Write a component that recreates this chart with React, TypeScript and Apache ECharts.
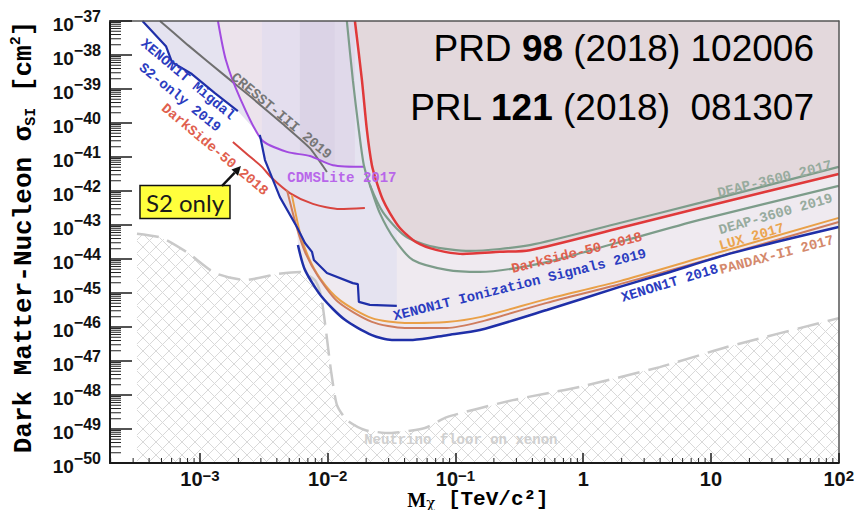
import { useEffect, useRef } from 'react';
import * as echarts from 'echarts';

type Pt = [number, number];

// Every curve is stored as [log10(M / TeV), log10(sigma_SI / cm^2)].
const xenon1tMigdal2019: Pt[] = [[-3.45, -37.0], [-3.266, -37.74], [-3.219, -38.21], [-3.063, -38.56], [-2.883, -39.12], [-2.703, -39.65]];
const cresst3_2019: Pt[] = [[-3.313, -37.0], [-3.094, -37.71], [-2.781, -38.68], [-2.593, -39.26], [-2.351, -40.03], [-2.139, -40.74], [-2.006, -41.44]];
const cdmsLite2017: Pt[] = [[-2.859, -37.0], [-2.797, -38.15], [-2.687, -39.26], [-2.515, -40.5], [-2.319, -40.85], [-2.139, -40.97], [-1.959, -41.24], [-1.709, -41.29]];
const darkSide50S2_2018: Pt[] = [[-2.742, -40.56], [-2.624, -40.94], [-2.515, -41.29], [-2.437, -41.62], [-2.296, -42.06], [-2.116, -42.38], [-1.905, -42.53], [-1.709, -42.5]];
const xenon1tIonization2019: Pt[] = [[-2.531, -40.35], [-2.491, -41.09], [-2.374, -42.18], [-2.241, -43.06], [-2.178, -43.53], [-2.123, -43.79], [-2.108, -44.03], [-2.006, -44.41], [-1.803, -44.71], [-1.764, -44.74], [-1.756, -45.26], [-1.67, -45.35], [-1.459, -45.38]];
const xenon1t2018: Pt[] = [[-2.233, -43.59], [-2.178, -44.32], [-2.045, -45.12], [-1.865, -45.79], [-1.654, -46.24], [-1.498, -46.38], [-1.333, -46.38], [-1.067, -46.24], [-0.809, -46.09], [-0.285, -45.5], [0.286, -44.82], [0.654, -44.41], [1.171, -43.82], [2.0, -43.06]];
const lux2017: Pt[] = [[-2.28, -42.12], [-2.218, -43.21], [-2.155, -43.91], [-2.061, -44.56], [-1.905, -45.21], [-1.654, -45.74], [-1.396, -45.88], [-1.067, -45.85], [-0.809, -45.71], [-0.285, -45.18], [0.286, -44.65], [0.912, -43.97], [2.0, -42.79]];
const pandax2_2017: Pt[] = [[-2.319, -41.97], [-2.241, -43.09], [-2.178, -43.79], [-2.077, -44.5], [-1.92, -45.26], [-1.654, -45.85], [-1.396, -46.03], [-1.067, -46.03], [-0.809, -45.85], [-0.285, -45.29], [0.286, -44.74], [0.912, -44.09], [2.0, -42.91]];
const darkSide50_2018: Pt[] = [[-1.787, -37.0], [-1.732, -38.74], [-1.693, -40.21], [-1.654, -41.24], [-1.615, -41.76], [-1.568, -42.26], [-1.513, -42.65], [-1.435, -43.09], [-1.333, -43.44], [-1.279, -43.56], [-1.2, -43.68], [-1.083, -43.79], [-0.942, -43.85], [-0.653, -43.79], [-0.418, -43.74], [0.286, -43.09], [0.912, -42.5], [2.0, -41.5]];
const deap3600_2017: Pt[] = [[-1.85, -37.0], [-1.803, -38.74], [-1.756, -40.21], [-1.717, -41.24], [-1.67, -41.82], [-1.568, -42.62], [-1.396, -43.32], [-1.2, -43.62], [-0.887, -43.76], [-0.418, -43.59], [0.286, -42.94], [0.912, -42.35], [2.0, -41.29]];
const deap3600_2019: Pt[] = [[-1.67, -41.82], [-1.592, -42.65], [-1.474, -43.44], [-1.333, -44.03], [-1.067, -44.32], [-0.809, -44.38], [-0.285, -44.09], [0.286, -43.5], [0.912, -42.85], [2.0, -41.85]];
const neutrinoFloorXe: Pt[] = [[-3.493, -43.26], [-3.297, -43.38], [-3.094, -43.82], [-2.883, -44.41], [-2.648, -44.62], [-2.39, -44.44], [-2.218, -44.38], [-2.1, -44.62], [-2.053, -45.06], [-2.014, -46.09], [-1.975, -47.26], [-1.928, -48.29], [-1.85, -48.74], [-1.709, -49.03], [-1.513, -49.12], [-1.239, -48.97], [-1.067, -48.65], [-0.551, -48.15], [-0.027, -47.76], [0.599, -47.18], [1.124, -46.59], [2.0, -45.74]];

// Extra shading strips inside the low-mass excluded region
const stripA: Pt[] = [[-2.859, -37.0], [-2.515, -37.0], [-2.515, -40.5], [-2.687, -39.26], [-2.797, -38.15]];
const stripB: Pt[] = [[-2.515, -37.0], [-2.218, -37.0], [-2.218, -40.93], [-2.319, -40.85], [-2.515, -40.5]];
const stripC: Pt[] = [[-2.218, -37.0], [-1.944, -37.0], [-1.944, -41.25], [-2.139, -40.97], [-2.218, -40.93]];
const stripD: Pt[] = [[-1.944, -37.0], [-1.787, -37.0], [-1.787, -41.28], [-1.944, -41.25]];

// Axis ranges (decimal exponents) and labelled decades
const X_MIN = -3.704;
const X_MAX = 2;
const Y_MIN = -50;
const Y_MAX = -37;
const xDecades = [-3, -2, -1, 0, 1, 2];

// "S2 only" call-out
const s2OnlyBoxAt: Pt = [-3.117, -42.324];
const s2ArrowFrom: Pt = [-2.828, -41.853];
const s2ArrowTo: Pt = [-2.679, -41.265];

const BLUE_TXT = '#2b3cc0';
const curveLabels = [
  { text: 'XENON1T Migdal', at: [-3.094, -38.72], angle: -40, color: BLUE_TXT },
  { text: 'S2-only 2019', at: [-3.156, -39.25], angle: -39, color: BLUE_TXT },
  { text: 'DarkSide-50 2018', at: [-2.883, -40.78], angle: -40, color: '#e0604e' },
  { text: 'CRESST-III 2019', at: [-2.362, -39.79], angle: -40, color: '#767676' },
  { text: 'CDMSLite 2017', at: [-1.889, -41.62], angle: 0, color: '#b866ea' },
  { text: 'DEAP-3600 2017', at: [1.499, -41.65], angle: 14, color: '#97ab9e' },
  { text: 'DEAP-3600 2019', at: [1.507, -42.68], angle: 16, color: '#97ab9e' },
  { text: 'LUX 2017', at: [1.319, -43.35], angle: 16, color: '#eba54f' },
  { text: 'PANDAX-II 2017', at: [1.515, -43.88], angle: 15, color: '#d4896c' },
  { text: 'XENON1T 2018', at: [0.678, -44.71], angle: 17, color: BLUE_TXT },
  { text: 'DarkSide-50 2018', at: [-0.05, -43.82], angle: 14, color: '#e0604e' },
  { text: 'XENON1T Ionization Signals 2019', at: [-0.496, -44.76], angle: 14, color: BLUE_TXT },
  { text: 'Neutrino floor on xenon', at: [-0.958, -49.32], angle: 0, color: '#d0d0d0' },
];

const minus = (n: number) => (n < 0 ? '\u2212' + Math.abs(n) : String(n));

const yLabel = (v: number) => `{b|10}{s|${minus(Math.round(v))}}`;
const xLabel = (v: number) => {
  const n = Math.round(v);
  if (Math.abs(v - n) > 1e-6 || xDecades.indexOf(n) < 0) return '';
  if (n === 0) return '{b|1}';
  if (n === 1) return '{b|10}';
  return `{b|10}{s|${minus(n)}}`;
};

const LABEL_FONT = 'Liberation Sans';
const MONO = 'Liberation Mono';

const polygonSeries = (pts: Pt[], color: string, z: number) => ({
  type: 'custom',
  z,
  silent: true,
  coordinateSystem: 'cartesian2d',
  data: [[pts[0][0], pts[0][1]]],
  renderItem: (_p: any, api: any) => ({
    type: 'polygon',
    shape: { points: pts.map((p) => api.coord(p)) },
    style: { fill: color, stroke: null },
  }),
});

const curve = (data: Pt[], color: string, width: number, smooth = 0.2) => ({
  type: 'line',
  z: 6,
  silent: true,
  data,
  symbol: 'none',
  showSymbol: false,
  smooth,
  lineStyle: { color, width },
});

// Cross-hatching below the neutrino floor: diagonal lines clipped to the region
const hatchSeries = {
  type: 'custom',
  z: 5,
  silent: true,
  coordinateSystem: 'cartesian2d',
  data: [neutrinoFloorXe[0]],
  renderItem: (_p: any, api: any) => {
    const pts = neutrinoFloorXe.map((p) => api.coord(p));
    const bottom = api.coord([X_MIN, Y_MIN])[1];
    const poly = [...pts, [pts[pts.length - 1][0], bottom], [pts[0][0], bottom]];
    const step = 13;
    const children: any[] = [];
    for (const dir of [1, -1]) {
      const vals = poly.map((p) => p[1] - dir * p[0]);
      const cMin = Math.min(...vals);
      const cMax = Math.max(...vals);
      for (let c = Math.ceil(cMin / step) * step; c <= cMax; c += step) {
        const xs: number[] = [];
        for (let i = 0; i < poly.length; i++) {
          const a = poly[i];
          const b = poly[(i + 1) % poly.length];
          const fa = a[1] - dir * a[0] - c;
          const fb = b[1] - dir * b[0] - c;
          if (fa < 0 !== fb < 0) {
            const t = fa / (fa - fb);
            xs.push(a[0] + t * (b[0] - a[0]));
          }
        }
        xs.sort((m, n) => m - n);
        for (let j = 0; j + 1 < xs.length; j += 2) {
          children.push({
            type: 'line',
            shape: { x1: xs[j], y1: c + dir * xs[j], x2: xs[j + 1], y2: c + dir * xs[j + 1] },
            style: { stroke: '#d9d9d9', lineWidth: 1 },
          });
        }
      }
    }
    return { type: 'group', children };
  },
};

function buildOption() {
  const upperLight: Pt[] = [
    ...xenon1tMigdal2019,
    ...xenon1tIonization2019.slice(0, 4),
    ...xenon1t2018,
    [X_MAX, Y_MAX],
  ];
  const upperLavender: Pt[] = [
    ...xenon1tMigdal2019,
    ...xenon1tIonization2019,
    [xenon1tIonization2019[xenon1tIonization2019.length - 1][0], Y_MAX],
  ];
  const heavyRegion: Pt[] = [...darkSide50_2018, [X_MAX, Y_MAX]];

  const axisLineDark = { show: true, onZero: false, lineStyle: { color: '#1a1a1a', width: 2 } };
  const axisLineFrame = { show: true, onZero: false, lineStyle: { color: '#555555', width: 1.5 } };

  return {
    animation: false,
    backgroundColor: '#ffffff',
    grid: { left: 110, right: 18, top: 21, bottom: 47, show: true, backgroundColor: '#ffffff', borderWidth: 0 },
    xAxis: [
      {
        type: 'value',
        min: X_MIN,
        max: X_MAX,
        splitNumber: 6,
        z: 10,
        axisLine: axisLineDark,
        axisTick: { show: true, inside: true, length: 10, lineStyle: { color: '#1a1a1a', width: 1.5 } },
        axisLabel: {
          show: true,
          interval: 0,
          margin: 5,
          showMinLabel: false,
          formatter: xLabel,
          rich: {
            b: { fontFamily: LABEL_FONT, fontWeight: 'bold', fontSize: 20, color: '#111', lineHeight: 21, verticalAlign: 'bottom' },
            s: { fontFamily: LABEL_FONT, fontWeight: 'bold', fontSize: 15, color: '#111', lineHeight: 15, verticalAlign: 'top' },
          },
        },
        splitLine: { show: false },
      },
      {
        type: 'value',
        position: 'top',
        min: X_MIN,
        max: X_MAX,
        z: 10,
        axisLine: axisLineFrame,
        axisTick: { show: false },
        axisLabel: { show: false },
        splitLine: { show: false },
      },
    ],
    yAxis: [
      {
        type: 'value',
        min: Y_MIN,
        max: Y_MAX,
        interval: 1,
        z: 10,
        axisLine: axisLineDark,
        axisTick: { show: true, inside: true, length: 22, lineStyle: { color: '#1a1a1a', width: 1.5 } },
        axisLabel: {
          show: true,
          interval: 0,
          margin: 9,
          formatter: yLabel,
          rich: {
            b: { fontFamily: LABEL_FONT, fontWeight: 'bold', fontSize: 19, color: '#111', lineHeight: 25, verticalAlign: 'bottom' },
            s: { fontFamily: LABEL_FONT, fontWeight: 'bold', fontSize: 16, color: '#111', lineHeight: 16, verticalAlign: 'top' },
          },
        },
        splitLine: { show: false },
      },
      {
        type: 'value',
        position: 'right',
        min: Y_MIN,
        max: Y_MAX,
        interval: 1,
        z: 10,
        axisLine: axisLineFrame,
        axisTick: { show: false },
        axisLabel: { show: false },
        splitLine: { show: false },
      },
    ],
    graphic: [
      {
        type: 'text',
        x: 24,
        y: 237,
        rotation: Math.PI / 2,
        z: 100,
        style: {
          text: '{t|Dark Matter-Nucleon \u03c3}{sub|SI}{t| [cm}{sup|2}{t|]}',
          align: 'center',
          verticalAlign: 'middle',
          textAlign: 'center',
          textVerticalAlign: 'middle',
          rich: {
            t: { fontFamily: MONO, fontWeight: 'bold', fontSize: 26, color: '#1a1a1a', lineHeight: 30, verticalAlign: 'middle' },
            sub: { fontFamily: MONO, fontWeight: 'bold', fontSize: 15, color: '#1a1a1a', lineHeight: 15, verticalAlign: 'bottom' },
            sup: { fontFamily: MONO, fontWeight: 'bold', fontSize: 15, color: '#1a1a1a', lineHeight: 15, verticalAlign: 'top' },
          },
        },
      },
      {
        type: 'text',
        x: 478,
        y: 499.5,
        z: 100,
        style: {
          text: '{m|M}{c|\u03c7}{t| [TeV/c\u00b2]}',
          align: 'center',
          verticalAlign: 'middle',
          textAlign: 'center',
          textVerticalAlign: 'middle',
          rich: {
            m: { fontFamily: 'Liberation Serif', fontWeight: 'bold', fontSize: 20, color: '#1a1a1a', lineHeight: 21, verticalAlign: 'bottom' },
            c: { fontFamily: 'DejaVu Serif', fontSize: 15, color: '#1a1a1a', lineHeight: 21, verticalAlign: 'bottom' },
            t: { fontFamily: MONO, fontWeight: 'bold', fontSize: 21, color: '#1a1a1a', lineHeight: 21, verticalAlign: 'bottom' },
          },
        },
      },
      {
        type: 'text',
        x: 814,
        y: 48,
        z: 100,
        style: {
          text: '{r|PRD }{b|98}{r| (2018) 102006}',
          align: 'right',
          verticalAlign: 'middle',
          textAlign: 'right',
          textVerticalAlign: 'middle',
          rich: {
            r: { fontFamily: LABEL_FONT, fontSize: 37, color: '#2d2d2d' },
            b: { fontFamily: LABEL_FONT, fontWeight: 'bold', fontSize: 37, color: '#2d2d2d' },
          },
        },
      },
      {
        type: 'text',
        x: 814,
        y: 107,
        z: 100,
        style: {
          text: '{r|PRL }{b|121}{r| (2018)  081307}',
          align: 'right',
          verticalAlign: 'middle',
          textAlign: 'right',
          textVerticalAlign: 'middle',
          rich: {
            r: { fontFamily: LABEL_FONT, fontSize: 37, color: '#2d2d2d' },
            b: { fontFamily: LABEL_FONT, fontWeight: 'bold', fontSize: 37, color: '#2d2d2d' },
          },
        },
      },
    ],
    series: [
      polygonSeries(upperLight, '#efeaf0', 1),
      polygonSeries(upperLavender, '#e5e3f0', 2),
      polygonSeries(stripA, '#ece3ec', 3),
      polygonSeries(stripB, '#e4deee', 3),
      polygonSeries(stripC, '#dbd3e6', 3),
      polygonSeries(stripD, '#e0d9ea', 3),
      polygonSeries(heavyRegion, '#e3d8dc', 4),
      hatchSeries,
      {
        ...curve(neutrinoFloorXe, '#c9c9c9', 2.5, 0.2),
        z: 5,
        lineStyle: { color: '#c9c9c9', width: 2.5, type: [22, 9] },
      },
      curve(cresst3_2019, '#6f6f6f', 2, 0.15),
      curve(cdmsLite2017, '#a24be0', 2, 0.25),
      curve(darkSide50S2_2018, '#d8453f', 2, 0.25),
      curve(deap3600_2017, '#7d9c8a', 2.2, 0.25),
      curve(deap3600_2019, '#7d9c8a', 2.2, 0.25),
      curve(darkSide50_2018, '#e0393a', 2.5, 0.25),
      curve(lux2017, '#e9a048', 2, 0.25),
      curve(pandax2_2017, '#cf7d5e', 2, 0.25),
      curve(xenon1t2018, '#1f2fa8', 2.5, 0.25),
      curve(xenon1tIonization2019, '#1f2fa8', 2.2, 0),
      curve(xenon1tMigdal2019, '#1f2fa8', 2.2, 0),
      {
        type: 'custom',
        z: 7,
        silent: true,
        coordinateSystem: 'cartesian2d',
        data: curveLabels.map((l) => l.at),
        renderItem: (params: any, api: any) => {
          const l = curveLabels[params.dataIndex];
          const p = api.coord(l.at);
          return {
            type: 'text',
            x: p[0],
            y: p[1],
            rotation: (l.angle * Math.PI) / 180,
            style: {
              text: l.text,
              fill: l.color,
              font: `bold 14px "${MONO}"`,
              align: 'center',
              verticalAlign: 'middle',
              textAlign: 'center',
              textVerticalAlign: 'middle',
            },
          };
        },
      },
      {
        type: 'custom',
        z: 7,
        silent: true,
        coordinateSystem: 'cartesian2d',
        data: [s2OnlyBoxAt],
        renderItem: (_p: any, api: any) => {
          const c = api.coord(s2OnlyBoxAt);
          const a = api.coord(s2ArrowFrom);
          const b = api.coord(s2ArrowTo);
          const ang = Math.atan2(b[1] - a[1], b[0] - a[0]);
          const hl = 9;
          const hw = 4.5;
          const base = [b[0] - hl * Math.cos(ang), b[1] - hl * Math.sin(ang)];
          const l1 = [base[0] + hw * Math.sin(ang), base[1] - hw * Math.cos(ang)];
          const l2 = [base[0] - hw * Math.sin(ang), base[1] + hw * Math.cos(ang)];
          return {
            type: 'group',
            children: [
              { type: 'rect', shape: { x: c[0] - 45, y: c[1] - 16.5, width: 90, height: 33 }, style: { fill: '#ffff3c', stroke: '#111111', lineWidth: 1.5 } },
              {
                type: 'text',
                x: c[0],
                y: c[1],
                style: { text: 'S2 only', font: '24px Lato', fill: '#1a1a1a', align: 'center', verticalAlign: 'middle', textAlign: 'center', textVerticalAlign: 'middle' },
              },
              { type: 'line', shape: { x1: a[0], y1: a[1], x2: base[0], y2: base[1] }, style: { stroke: '#111111', lineWidth: 2.5 } },
              { type: 'polygon', shape: { points: [b, l1, l2] }, style: { fill: '#111111' } },
            ],
          };
        },
      },
      {
        // logarithmic minor ticks (2..9 within each decade)
        type: 'custom',
        z: 8,
        silent: true,
        coordinateSystem: 'cartesian2d',
        data: [[X_MIN, Y_MIN]],
        renderItem: (_p: any, api: any) => {
          const children: any[] = [];
          const tick = { stroke: '#222222', lineWidth: 1 };
          for (let n = Y_MIN; n < Y_MAX; n++) {
            for (let k = 2; k <= 9; k++) {
              const p = api.coord([X_MIN, n + Math.log10(k)]);
              children.push({ type: 'line', shape: { x1: p[0], y1: p[1], x2: p[0] + 11, y2: p[1] }, style: tick });
            }
          }
          for (let n = -4; n < X_MAX; n++) {
            for (let k = 2; k <= 9; k++) {
              const v = n + Math.log10(k);
              if (v <= X_MIN || v >= X_MAX) continue;
              const p = api.coord([v, Y_MIN]);
              children.push({ type: 'line', shape: { x1: p[0], y1: p[1], x2: p[0], y2: p[1] - 5 }, style: tick });
            }
          }
          return { type: 'group', children };
        },
      },
    ],
  };
}

export default function App() {
  const ref = useRef<HTMLDivElement>(null);
  useEffect(() => {
    if (!ref.current) return;
    const chart = echarts.init(ref.current, null, { renderer: 'svg' });
    chart.setOption(buildOption() as any);
    return () => chart.dispose();
  }, []);
  return <div ref={ref} style={{ position: 'absolute', left: 0, top: 0, width: 857, height: 510 }} />;
}
